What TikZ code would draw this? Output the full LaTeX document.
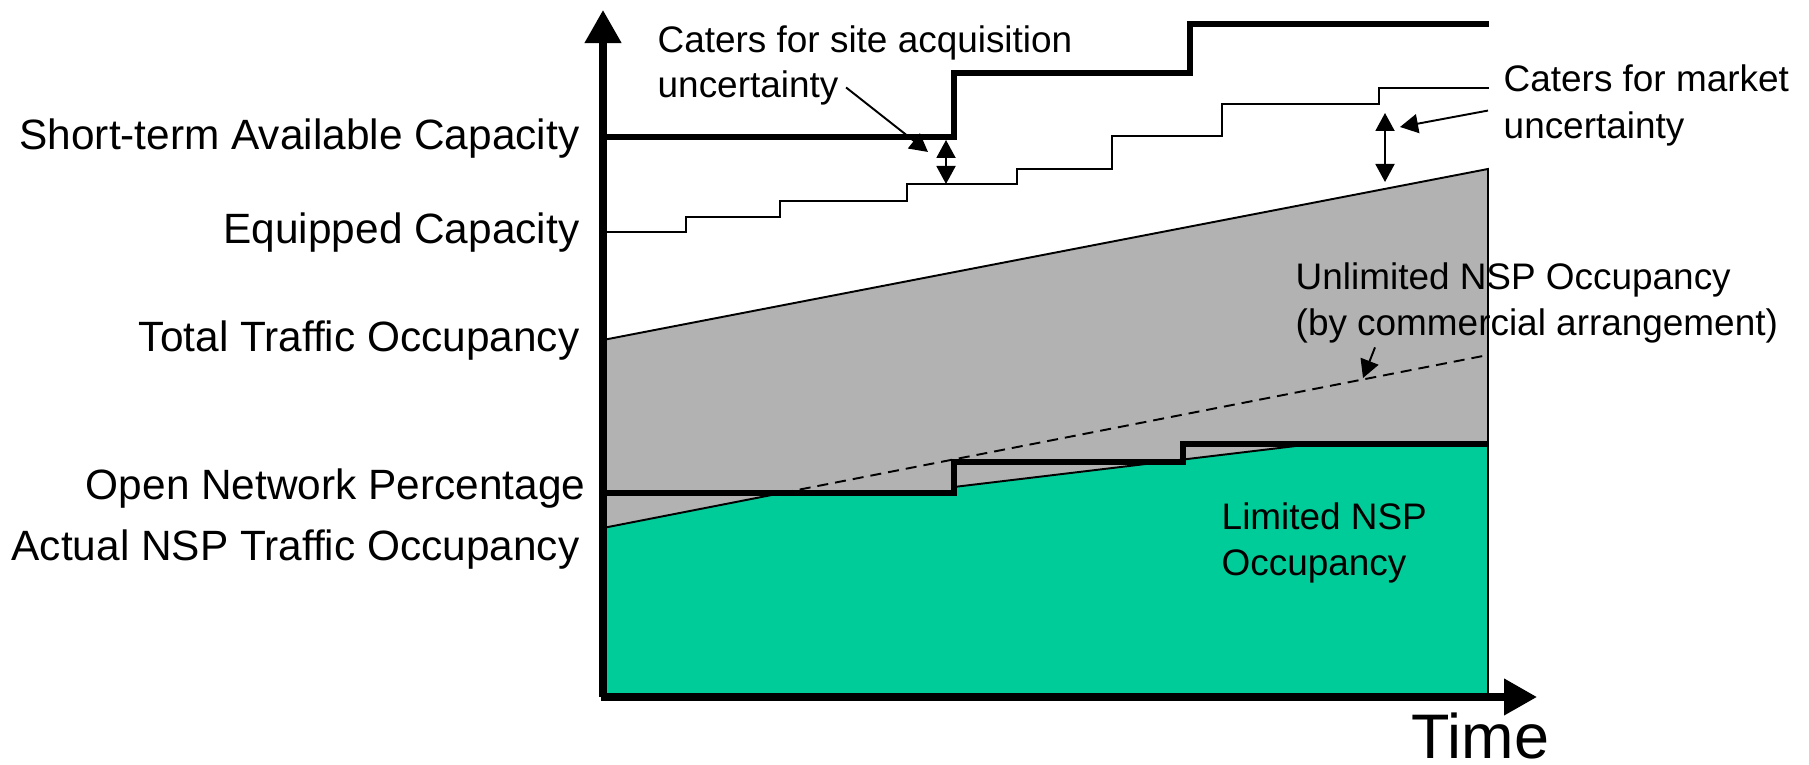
\documentclass[tikz,border=0pt]{standalone}
\usepackage{fontspec}
\setmainfont{Liberation Sans}
\usetikzlibrary{arrows.meta,positioning}

\definecolor{occgrey}{RGB}{178,178,178}
\definecolor{nspgreen}{RGB}{0,204,153}

\begin{document}
\begin{tikzpicture}[x=0.01cm,y=-0.01cm,>={Triangle[length=0.18cm,width=0.19cm]},
        axis/.style={line width=2.1pt,-{Triangle[length=0.33cm,width=0.35cm]}},
        level/.style={line width=1.9pt},
        fine/.style={line width=0.55pt},
        ylabel/.style={anchor=base east,inner sep=0pt,font=\fontsize{12.05}{14}\selectfont},
        note/.style={anchor=base west,inner sep=0pt,font=\fontsize{10.5}{12}\selectfont}]
    \useasboundingbox (0,0) rectangle (1809,765);

    % occupancy areas
    \fill[occgrey] (603,340) -- (1488,169) -- (1488,697) -- (603,697) -- cycle;
    \fill[nspgreen] (603,528) -- (782,493) -- (954,493) -- (954,487) -- (1296,446)
        -- (1488,446) -- (1488,697) -- (603,697) -- cycle;
    \draw[fine] (603,340) -- (1488,169) -- (1488,697);
    \draw[fine] (603,528) -- (782,493) -- (954,493) -- (954,487) -- (1296,446) -- (1488,446);
    \draw[fine,dash pattern=on 0.11cm off 0.07cm] (782,493) -- (1483,356);

    % equipped capacity
    \draw[fine] (603,232) -| (686,217) -| (780,201) -| (907,184) -| (1017,169)
        -| (1112,136) -| (1222,104) -| (1379,88) -- (1489,88);

    % available capacity and open network levels
    \draw[level] (603,137) -| (954,73) -| (1190,24) -- (1489,24);
    \draw[level] (603,493) -| (954,462) -| (1183,444) -- (1488,444);

    % axes
    \draw[axis] (603,697) -- (603,10);
    \draw[axis] (601,697) -- (1537,697);
    \node[anchor=base west,inner sep=0pt,font=\fontsize{17.9}{20}\selectfont] (time) at (1411,759) {Time};

    % levels on the vertical axis
    \node[ylabel] (stac) at (580,150) {Short-term Available Capacity};
    \node[ylabel] (eqc)  at (580,244) {Equipped Capacity};
    \node[ylabel] (tto)  at (580,352) {Total Traffic Occupancy};
    \node[ylabel] (onp)  at (586,500) {Open Network Percentage};
    \node[ylabel] (ansp) at (580,561) {Actual NSP Traffic Occupancy};

    % notes
    \node[note] (site1) at (657,53) {Caters for site acquisition};
    \node[note] (site2) [below=0.44cm of site1.base west,anchor=base west] {uncertainty};
    \node[note] (mkt1) at (1503,92) {Caters for market};
    \node[note] (mkt2) [below=0.46cm of mkt1.base west,anchor=base west] {uncertainty};
    \node[note] (unl1) at (1295,290) {Unlimited NSP Occupancy};
    \node[note] (unl2) [below=0.45cm of unl1.base west,anchor=base west] {(by commercial arrangement)};
    \node[note] (lim1) at (1221,530) {Limited NSP};
    \node[note] (lim2) [below=0.45cm of lim1.base west,anchor=base west] {Occupancy};

    % margins
    \coordinate (sagap1) at (946,140);
    \coordinate (sagap2) at (946,184);
    \coordinate (mgap1) at (1385,113);
    \coordinate (mgap2) at (1385,182);
    \coordinate (sitetip) at (928,152);
    \coordinate (mkttip) at (1400,127);
    \coordinate (unltip) at (1363,378);

    \draw[fine,<->] (sagap1) -- (sagap2);
    \draw[fine,<->] (mgap1) -- (mgap2);
    \draw[fine,->] ([xshift=2pt]site2.east) -- (sitetip);
    \draw[fine,->] ([xshift=-0.15cm]mkt2.north west) -- (mkttip);
    \draw[fine,->] ([shift={(80,4)}]unl2.south west) -- (unltip);
\end{tikzpicture}
\end{document}
